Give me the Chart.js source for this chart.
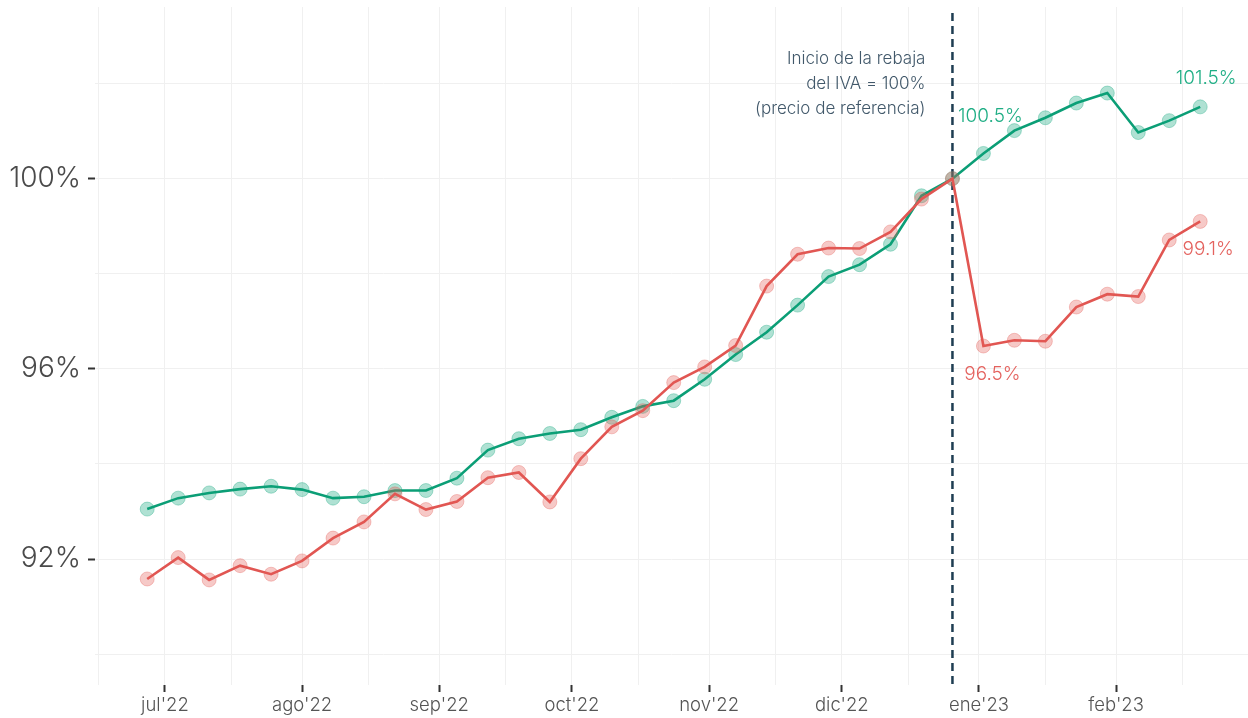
<!DOCTYPE html>
<html lang="es">
<head>
    <meta charset="UTF-8">
    <title>Inicio de la rebaja del IVA</title>
    <script src="https://cdn.jsdelivr.net/npm/chart.js@4.4.1/dist/chart.umd.min.js"></script>
    <style>
        body {
            margin: 0;
            background: #fff;
        }
        #chart {
            display: block;
        }
    </style>
</head>
<body>
    <canvas id="chart" width="1248" height="718"></canvas>

    <script>
        // Weekly dates (categories)
        const weeks = [
            '2022-06-27', '2022-07-04', '2022-07-11', '2022-07-18', '2022-07-25',
            '2022-08-01', '2022-08-08', '2022-08-15', '2022-08-22', '2022-08-29',
            '2022-09-05', '2022-09-12', '2022-09-19', '2022-09-26',
            '2022-10-03', '2022-10-10', '2022-10-17', '2022-10-24', '2022-10-31',
            '2022-11-07', '2022-11-14', '2022-11-21', '2022-11-28',
            '2022-12-05', '2022-12-12', '2022-12-19', '2022-12-26',
            '2023-01-02', '2023-01-09', '2023-01-16', '2023-01-23', '2023-01-30',
            '2023-02-06', '2023-02-13', '2023-02-20'
        ];

        // Price index, 100 = week the VAT cut started
        const greenSeries = [
            93.05, 93.28, 93.39, 93.47, 93.53, 93.46, 93.28, 93.31, 93.44, 93.44,
            93.70, 94.29, 94.53, 94.64, 94.72, 94.98, 95.21, 95.33, 95.78, 96.30,
            96.77, 97.34, 97.94, 98.19, 98.62, 99.64, 100.00,
            100.53, 101.01, 101.28, 101.59, 101.80, 100.97, 101.22, 101.51
        ];
        const redSeries = [
            91.58, 92.03, 91.56, 91.86, 91.68, 91.96, 92.44, 92.78, 93.37, 93.04,
            93.21, 93.71, 93.82, 93.20, 94.11, 94.78, 95.12, 95.71, 96.04, 96.49,
            97.74, 98.41, 98.54, 98.53, 98.88, 99.57, 100.00,
            96.48, 96.60, 96.58, 97.30, 97.57, 97.52, 98.71, 99.10
        ];

        // Axis ticks
        const monthTicks = ['2022-07-01', '2022-08-01', '2022-09-01', '2022-10-01', '2022-11-01', '2022-12-01', '2023-01-01', '2023-02-01'];
        const monthLabels = ["jul'22", "ago'22", "sep'22", "oct'22", "nov'22", "dic'22", "ene'23", "feb'23"];
        const midMonthTicks = ['2022-06-16', '2022-07-16', '2022-08-16', '2022-09-16', '2022-10-16', '2022-11-16', '2022-12-16', '2023-01-16', '2023-02-16'];
        const yGridValues = [90, 92, 94, 96, 98, 100, 102];
        const yLabelValues = [92, 96, 100];

        const cutDate = '2022-12-26';
        const noteLines = ['Inicio de la rebaja', 'del IVA = 100%', '(precio de referencia)'];

        // dates -> days since 2022-07-01 (linear x scale, no date adapter needed)
        const origin = Date.UTC(2022, 6, 1);
        function toDay(s) {
            const p = s.split('-').map(Number);
            return Math.round((Date.UTC(p[0], p[1] - 1, p[2]) - origin) / 86400000);
        }
        const monthDays = monthTicks.map(toDay);
        const allXTicks = monthDays.concat(midMonthTicks.map(toDay)).sort((a, b) => a - b);

        const FONT = 'Inter, "DejaVu Sans", sans-serif';

        // value labels: which point, and where the text sits relative to it
        const endLabels = [
            { data: greenSeries, idx: 27, dx: 7, dy: -37, color: '#1fae85' },
            { data: greenSeries, idx: 34, dx: 6, dy: -29, color: '#1fae85' },
            { data: redSeries, idx: 27, dx: 9, dy: 28, color: '#e4625e' },
            { data: redSeries, idx: 34, dx: 8, dy: 28, color: '#e4625e' }
        ];

        const annotations = {
            id: 'annotations',
            beforeDatasetsDraw(chart) {
                const { ctx, chartArea, scales } = chart;
                const x = scales.x.getPixelForValue(toDay(cutDate));
                ctx.save();
                ctx.strokeStyle = '#1e3d52';
                ctx.lineWidth = 2.5;
                ctx.setLineDash([8, 5]);
                ctx.beginPath();
                ctx.moveTo(x, chartArea.top + 6);
                ctx.lineTo(x, chartArea.bottom);
                ctx.stroke();
                ctx.restore();
            },
            afterDatasetsDraw(chart) {
                const { ctx, scales } = chart;
                const x = scales.x.getPixelForValue(toDay(cutDate));
                ctx.save();
                ctx.fillStyle = '#41586a';
                ctx.font = '300 17px ' + FONT;
                ctx.textAlign = 'right';
                ctx.textBaseline = 'middle';
                const midY = scales.y.getPixelForValue(102);
                noteLines.forEach((line, i) => {
                    ctx.fillText(line, x - 27, midY + (i - 1) * 25);
                });

                ctx.font = '300 19px ' + FONT;
                ctx.textAlign = 'center';
                endLabels.forEach(l => {
                    const px = scales.x.getPixelForValue(toDay(weeks[l.idx]));
                    const py = scales.y.getPixelForValue(l.data[l.idx]);
                    ctx.fillStyle = l.color;
                    ctx.fillText(l.data[l.idx].toFixed(1) + '%', px + l.dx, py + l.dy);
                });
                ctx.restore();
            }
        };

        function series(values, color, fill) {
            return {
                data: values.map((v, i) => ({ x: toDay(weeks[i]), y: v })),
                borderColor: color,
                borderWidth: 2.6,
                tension: 0,
                pointRadius: 7,
                pointHoverRadius: 7,
                pointBackgroundColor: fill,
                pointBorderColor: fill,
                pointBorderWidth: 1
            };
        }

        new Chart(document.getElementById('chart'), {
            type: 'line',
            data: {
                datasets: [
                    series(redSeries, '#e15652', 'rgba(228, 90, 86, 0.33)'),
                    series(greenSeries, '#0b9e76', 'rgba(11, 165, 120, 0.33)')
                ]
            },
            options: {
                responsive: false,
                animation: false,
                layout: { autoPadding: false, padding: { top: 7, right: 0, left: 0, bottom: 0 } },
                plugins: {
                    legend: { display: false },
                    tooltip: { enabled: false }
                },
                scales: {
                    x: {
                        type: 'linear',
                        min: -15.8,
                        max: 244.8,
                        afterBuildTicks: s => { s.ticks = allXTicks.map(v => ({ value: v })); },
                        afterFit: s => { s.height = 33; s.paddingLeft = 0; s.paddingRight = 0; },
                        border: { display: false },
                        grid: {
                            color: '#f0f0f0',
                            lineWidth: 1,
                            tickLength: 7,
                            tickWidth: 2,
                            tickColor: c => (c.tick && monthDays.includes(c.tick.value)) ? '#333' : 'rgba(0,0,0,0)'
                        },
                        ticks: {
                            autoSkip: false,
                            maxRotation: 0,
                            padding: 2,
                            color: '#555',
                            font: { family: FONT, size: 18.5, weight: 300 },
                            callback: v => {
                                const i = monthDays.indexOf(v);
                                return i >= 0 ? monthLabels[i] : '';
                            }
                        }
                    },
                    y: {
                        min: 89.35,
                        max: 103.61,
                        afterBuildTicks: s => { s.ticks = yGridValues.map(v => ({ value: v })); },
                        afterFit: s => { s.width = 95; s.paddingTop = 0; s.paddingBottom = 0; },
                        border: { display: false },
                        grid: {
                            color: '#f0f0f0',
                            lineWidth: 1,
                            tickLength: 7,
                            tickWidth: 2,
                            tickColor: c => (c.tick && yLabelValues.includes(c.tick.value)) ? '#333' : 'rgba(0,0,0,0)'
                        },
                        ticks: {
                            padding: 7,
                            color: '#4a4a4a',
                            font: { family: FONT, size: 28, weight: 300 },
                            callback: v => yLabelValues.includes(v) ? v + '%' : ''
                        }
                    }
                }
            },
            plugins: [annotations]
        });
    </script>
</body>
</html>
